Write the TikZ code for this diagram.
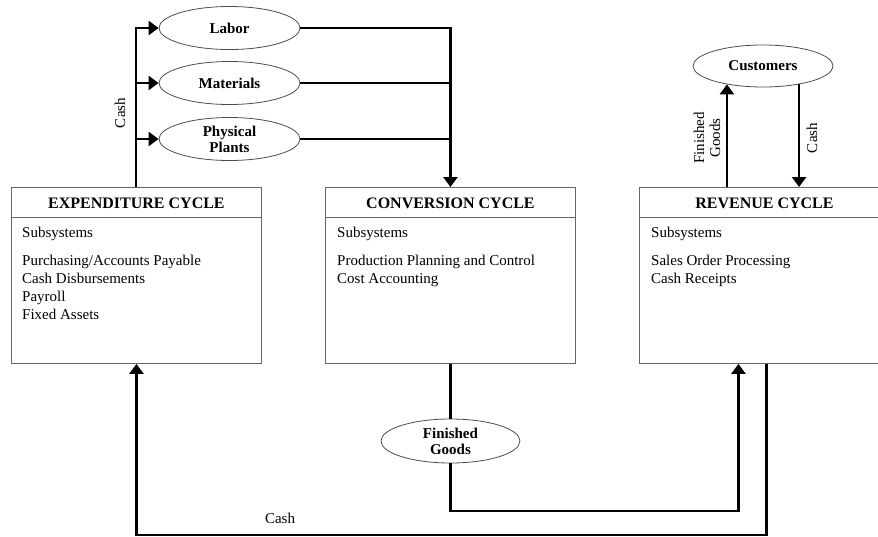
\documentclass[tikz,border=0pt]{standalone}
\usepackage{fontspec}
\setmainfont{Liberation Serif}
\usetikzlibrary{arrows.meta,shapes.geometric}

\tikzset{
  flow/.style={line width=2.6pt, draw=black},
  tip/.style={-{Triangle[length=10pt,width=14pt]}},
  cyclebox/.style={draw=black!60, line width=0.9pt, rectangle, inner sep=0pt,
    minimum width=250pt, minimum height=176pt, anchor=north west},
  divider/.style={draw=black!60, line width=0.9pt},
  head/.style={font=\fontsize{16}{18}\selectfont\bfseries, inner sep=0pt},
  body/.style={font=\fontsize{15}{18}\selectfont, align=left, inner sep=0pt, anchor=north west},
  resource/.style={ellipse, draw=black!70, line width=0.8pt, inner sep=0pt,
    minimum width=141pt, minimum height=43pt, align=center,
    font=\fontsize{15}{16}\selectfont\bfseries},
  flowlabel/.style={font=\fontsize{15}{16}\selectfont, inner sep=0pt, align=center}
}

\begin{document}
\begin{tikzpicture}[x=1pt, y=-1pt]
\useasboundingbox (0,0) rectangle (878,536);
\clip (0,0) rectangle (878,536);

% the three cycles
\node[cyclebox] (exp) at (11,187) {};
\node[cyclebox] (conv) at (325,187) {};
\node[cyclebox] (rev) at (639,187) {};

\node[head] (exph) at (exp.north |- 0,203) {EXPENDITURE CYCLE};
\node[head] (convh) at (conv.north |- 0,203) {CONVERSION CYCLE};
\node[head] (revh) at (rev.north |- 0,203) {REVENUE CYCLE};

\draw[divider] (exp.west |- 0,217) -- (exp.east |- 0,217);
\draw[divider] (conv.west |- 0,217) -- (conv.east |- 0,217);
\draw[divider] (rev.west |- 0,217) -- (rev.east |- 0,217);

\node[body] (expb) at (22,226.5) {Subsystems\\[10pt]Purchasing/Accounts Payable\\Cash Disbursements\\Payroll\\Fixed Assets};
\node[body] (convb) at (337,226.5) {Subsystems\\[10pt]Production Planning and Control\\Cost Accounting};
\node[body] (revb) at (651,226.5) {Subsystems\\[10pt]Sales Order Processing\\Cash Receipts};

% resources bought by the expenditure cycle
\node[resource] (labor) at (229.5,28) {Labor};
\node[resource] (mat) at (229.5,83) {Materials};
\node[resource] (plant) at (229.5,139) {Physical\\Plants};

\coordinate (cashup) at (exp.north -| 136,0);
\draw[flow,tip] (cashup) |- (labor);
\draw[flow,tip] (cashup) |- (mat);
\draw[flow,tip] (cashup) |- (plant);
\node[flowlabel, rotate=90] (cashl) at (120,113) {Cash};

\draw[flow,tip] (labor) -| (conv.north);
\draw[flow] (mat.east) -- (mat.east -| conv.north);
\draw[flow] (plant.east) -- (plant.east -| conv.north);

% customers
\node[resource, minimum width=140pt, minimum height=42pt] (cust) at (763,66) {Customers};
\draw[flow,tip] (rev.north -| cust.207) -- (cust.207);
\draw[flow,tip] (cust.333) -- (rev.north -| cust.333);
\node[flowlabel, rotate=90] (fgl) at (707,138) {Finished\\Goods};
\node[flowlabel, rotate=90] (cashr) at (812,138) {Cash};

% finished goods to revenue
\node[resource, minimum width=139pt, minimum height=44pt] (fg) at (conv.south |- 0,441) {Finished\\Goods};
\draw[flow] (conv.south) -- (fg);
\coordinate (fgin) at ([xshift=-26pt]rev.south);
\draw[flow,tip] (fg) |- (0,511 -| fgin) -- (fgin);

% cash back to expenditure
\draw[flow,tip] ([xshift=2pt]rev.south) |- (0,535 -| exp.south) -- (exp.south);
\node[flowlabel] (cashb) at (280,518) {Cash};
\end{tikzpicture}
\end{document}
